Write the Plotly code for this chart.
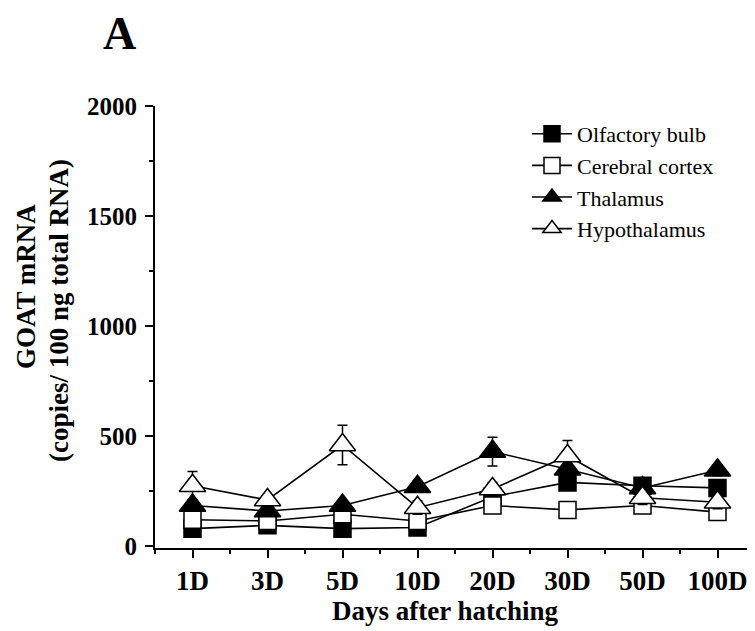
import plotly.graph_objects as go

days = ["1D", "3D", "5D", "10D", "20D", "30D", "50D", "100D"]
olfactory = [80, 95, 80, 85, 225, 290, 275, 265]
olfactory_err = [20, 15, 15, 15, 25, 25, 20, 25]
cortex = [120, 115, 145, 115, 185, 165, 185, 155]
cortex_err = [25, 20, 20, 25, 25, 20, 20, 20]
thalamus = [185, 160, 185, 270, 430, 350, 265, 345]
thalamus_err = [25, 20, 20, 25, 65, 50, 30, 25]
hypothalamus = [275, 210, 460, 175, 260, 410, 220, 200]
hypothalamus_err = [65, 25, 90, 30, 30, 70, 30, 30]

y_ticks = [0, 500, 1000, 1500, 2000]

FONT = "Times New Roman, Liberation Serif, serif"
xpos = list(range(len(days)))

series = [
    ("Olfactory bulb", olfactory, olfactory_err, "square", "black", 17),
    ("Cerebral cortex", cortex, cortex_err, "square", "white", 17),
    ("Thalamus", thalamus, thalamus_err, "triangle-up", "black", 23),
    ("Hypothalamus", hypothalamus, hypothalamus_err, "triangle-up", "white", 23),
]

fig = go.Figure()
for name, vals, errs, sym, fill, size in series:
    fig.add_trace(go.Scatter(
        x=xpos, y=vals, name=name, mode="lines+markers",
        line=dict(color="black", width=1.6),
        marker=dict(symbol=sym, size=size, color=fill,
                    line=dict(color="black", width=1.5)),
        error_y=dict(type="data", array=errs, visible=True,
                     color="black", thickness=1.5, width=5),
    ))

# the page body has an 8px margin, so the figure is drawn 8px right and down
OFF = 8
L, T = 155 - OFF, 106 - OFF
PW, PH = 600, 442
W, H = 755, 631
B = H - T - PH

def px(x):
    return (x - OFF - L) / PW

def py(y):
    return (H - B - (y - OFF)) / PH

fig.update_layout(
    width=W, height=H,
    margin=dict(l=L, r=W - L - PW, t=T, b=B, autoexpand=False),
    paper_bgcolor="white", plot_bgcolor="white",
    font=dict(family=FONT, color="black"),
    showlegend=True,
    legend=dict(x=px(527), y=py(113), xanchor="left", yanchor="top",
                font=dict(family=FONT, size=22, color="black"),
                bgcolor="rgba(0,0,0,0)", itemwidth=40),
    xaxis=dict(
        range=[-0.5, 7.5], tickmode="array", tickvals=xpos, ticktext=days,
        automargin=False,
        showline=True, linecolor="black", linewidth=2,
        ticks="outside", ticklen=8, tickwidth=2, tickcolor="black",
        showgrid=False, zeroline=False,
        tickfont=dict(family=FONT, size=27, color="black", weight="bold"),
        minor=dict(tickmode="linear", tick0=0.5, dtick=1, ticks="outside",
                   ticklen=4, tickwidth=2, tickcolor="black", showgrid=False),
    ),
    yaxis=dict(
        range=[-8, 2000], tickmode="array", tickvals=y_ticks,
        automargin=False,
        showline=True, linecolor="black", linewidth=2,
        ticks="outside", ticklen=8, tickwidth=2, tickcolor="black",
        showgrid=False, zeroline=False, ticklabelstandoff=3,
        tickfont=dict(family=FONT, size=25, color="black", weight="bold"),
        minor=dict(tickmode="linear", tick0=250, dtick=500, ticks="outside",
                   ticklen=4, tickwidth=2, tickcolor="black", showgrid=False),
    ),
)

fig.add_annotation(text="<b>A</b>", xref="paper", yref="paper",
                   x=px(119), y=py(34), xanchor="center", yanchor="middle",
                   showarrow=False, font=dict(family=FONT, size=46, color="black"))
fig.add_annotation(text="<b>Days after hatching</b>", xref="paper", yref="paper",
                   x=px(445), y=py(611), xanchor="center", yanchor="middle",
                   showarrow=False, font=dict(family=FONT, size=27, color="black"))
fig.add_annotation(text="<b>GOAT mRNA</b>", xref="paper", yref="paper",
                   x=px(26), y=py(287), xanchor="center", yanchor="middle",
                   textangle=-90, showarrow=False,
                   font=dict(family=FONT, size=27, color="black"))
fig.add_annotation(text="<b>(copies/ 100 ng total RNA)</b>", xref="paper", yref="paper",
                   x=px(59), y=py(311), xanchor="center", yanchor="middle",
                   textangle=-90, showarrow=False,
                   font=dict(family=FONT, size=27, color="black"))

fig.write_html("out.html")
